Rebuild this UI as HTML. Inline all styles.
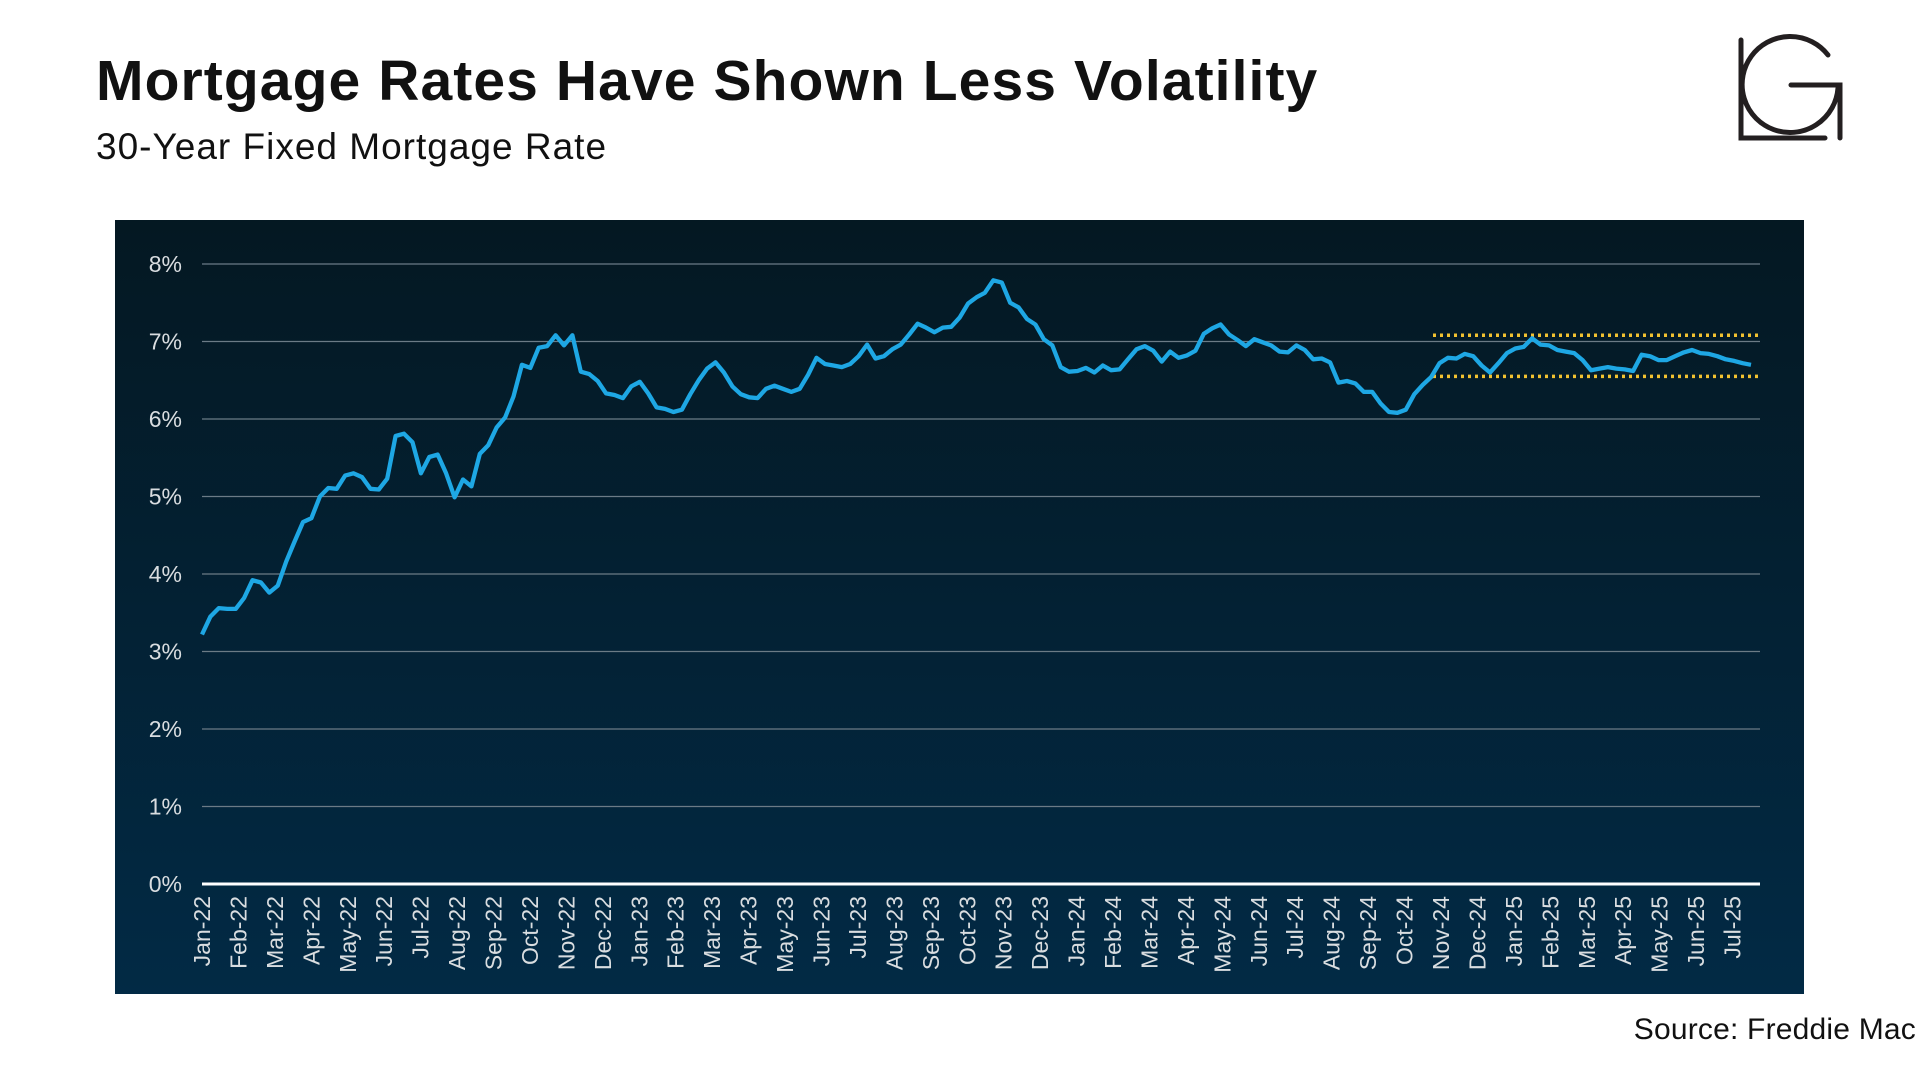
<!DOCTYPE html>
<html><head><meta charset="utf-8">
<style>
body{margin:0;width:1920px;height:1080px;background:#fff;overflow:hidden;font-family:"Liberation Sans",sans-serif;position:relative}
#title{position:absolute;left:96px;top:48px;font-size:57px;font-weight:bold;color:#111;letter-spacing:1.1px}
#subtitle{position:absolute;left:96px;top:126px;font-size:37px;color:#111;letter-spacing:1.0px}
#source{position:absolute;right:4px;top:1013px;font-size:30px;color:#111;letter-spacing:0.2px}
svg{position:absolute;left:0;top:0}
</style></head><body>
<div id="title">Mortgage Rates Have Shown Less Volatility</div>
<div id="subtitle">30-Year Fixed Mortgage Rate</div>
<div id="source">Source: Freddie Mac</div>
<svg width="1920" height="1080" id="chart">
<defs><linearGradient id="bg" x1="0" y1="0" x2="0" y2="1"><stop offset="0" stop-color="#041822"/><stop offset="1" stop-color="#022a45"/></linearGradient></defs>
<rect x="115" y="220" width="1689" height="774" fill="url(#bg)"/>
<g id="grid"></g><g id="ylab"></g><g id="xlab"></g><g id="bands"></g><g id="series"></g>
<g fill="none" stroke="#231f20" stroke-width="5" stroke-linecap="round">
<path d="M1741 40 V138 H1825"/>
<path d="M1828 55 A48 48 0 1 0 1838 88"/>
<path d="M1791 85 H1840 V138"/>
</g>
</svg>
<script>
const yTicks=[0,1,2,3,4,5,6,7,8];
const monthLabels=["Jan-22","Feb-22","Mar-22","Apr-22","May-22","Jun-22","Jul-22","Aug-22","Sep-22","Oct-22","Nov-22","Dec-22","Jan-23","Feb-23","Mar-23","Apr-23","May-23","Jun-23","Jul-23","Aug-23","Sep-23","Oct-23","Nov-23","Dec-23","Jan-24","Feb-24","Mar-24","Apr-24","May-24","Jun-24","Jul-24","Aug-24","Sep-24","Oct-24","Nov-24","Dec-24","Jan-25","Feb-25","Mar-25","Apr-25","May-25","Jun-25","Jul-25"];
const rates=[3.22,3.45,3.56,3.55,3.55,3.69,3.92,3.89,3.76,3.85,4.16,4.42,4.67,4.72,5.00,5.11,5.10,5.27,5.30,5.25,5.10,5.09,5.23,5.78,5.81,5.70,5.30,5.51,5.54,5.30,4.99,5.22,5.13,5.55,5.66,5.89,6.02,6.29,6.70,6.66,6.92,6.94,7.08,6.95,7.08,6.61,6.58,6.49,6.33,6.31,6.27,6.42,
6.48,6.33,6.15,6.13,6.09,6.12,6.32,6.50,6.65,6.73,6.60,6.42,6.32,6.28,6.27,6.39,6.43,6.39,6.35,6.39,6.57,6.79,6.71,6.69,6.67,6.71,6.81,6.96,6.78,6.81,6.90,6.96,7.09,7.23,7.18,7.12,7.18,7.19,7.31,7.49,7.57,7.63,7.79,7.76,7.50,7.44,7.29,7.22,7.03,6.95,6.67,6.61,
6.62,6.66,6.60,6.69,6.63,6.64,6.77,6.90,6.94,6.88,6.74,6.87,6.79,6.82,6.88,7.10,7.17,7.22,7.09,7.02,6.94,7.03,6.99,6.95,6.87,6.86,6.95,6.89,6.77,6.78,6.73,6.47,6.49,6.46,6.35,6.35,6.20,6.09,6.08,6.12,6.32,6.44,6.54,6.72,6.79,6.78,6.84,6.81,6.69,6.60,6.72,6.85,
6.91,6.93,7.04,6.96,6.95,6.89,6.87,6.85,6.76,6.63,6.65,6.67,6.65,6.64,6.62,6.83,6.81,6.76,6.76,6.81,6.86,6.89,6.85,6.84,6.81,6.77,6.75,6.72,6.70];
const bandLevels=[7.08,6.55];
const bandStartMonth=34;
const NS='http://www.w3.org/2000/svg';
const X0=202,MW=29.76*1.2245,Y0=884,YU=77.5,XR=1760,XEND=1751;
const xM=m=>X0+m*MW;
const xW=i=>X0+i*(XEND-X0)/(rates.length-1);
const y=v=>Y0-v*YU;
function mk(t,a,p){const e=document.createElementNS(NS,t);for(const k in a)e.setAttribute(k,a[k]);p.appendChild(e);return e;}
const grid=document.getElementById('grid'),yl=document.getElementById('ylab'),xl=document.getElementById('xlab');
yTicks.forEach(v=>{
 const l=mk('line',{x1:X0,x2:XR,y1:y(v),y2:y(v),stroke:v===0?'#ffffff':'#6b7b86','stroke-width':v===0?3:1.3},grid);
 
 
 const t=mk('text',{x:182,y:y(v)+8,'text-anchor':'end','font-size':23,fill:'#d9dde0','font-family':'Liberation Sans, sans-serif'},yl);
 t.textContent=v+'%';
 
 
});
monthLabels.forEach((s,i)=>{
 const x=xM(i)+8;
 const t=mk('text',{x:x,y:896,transform:`rotate(-90 ${x} 896)`,'text-anchor':'end','font-size':23,fill:'#d9dde0','font-family':'Liberation Sans, sans-serif'},xl);
 t.textContent=s;
 
 
});
const bands=document.getElementById('bands');
bandLevels.forEach(v=>{
 const l=mk('line',{x1:xM(bandStartMonth)-8,x2:XR,y1:y(v),y2:y(v),stroke:'#f2c230','stroke-width':3.5,'stroke-dasharray':'3 4'},bands);
 
 
});
const d=rates.map((v,i)=>(i?'L':'M')+xW(i).toFixed(1)+' '+y(v).toFixed(1)).join(' ');
const p=mk('path',{d:d,fill:'none',stroke:'#1ea7e4','stroke-width':4.3,'stroke-linejoin':'round'},document.getElementById('series'));


</script>
</body></html>
